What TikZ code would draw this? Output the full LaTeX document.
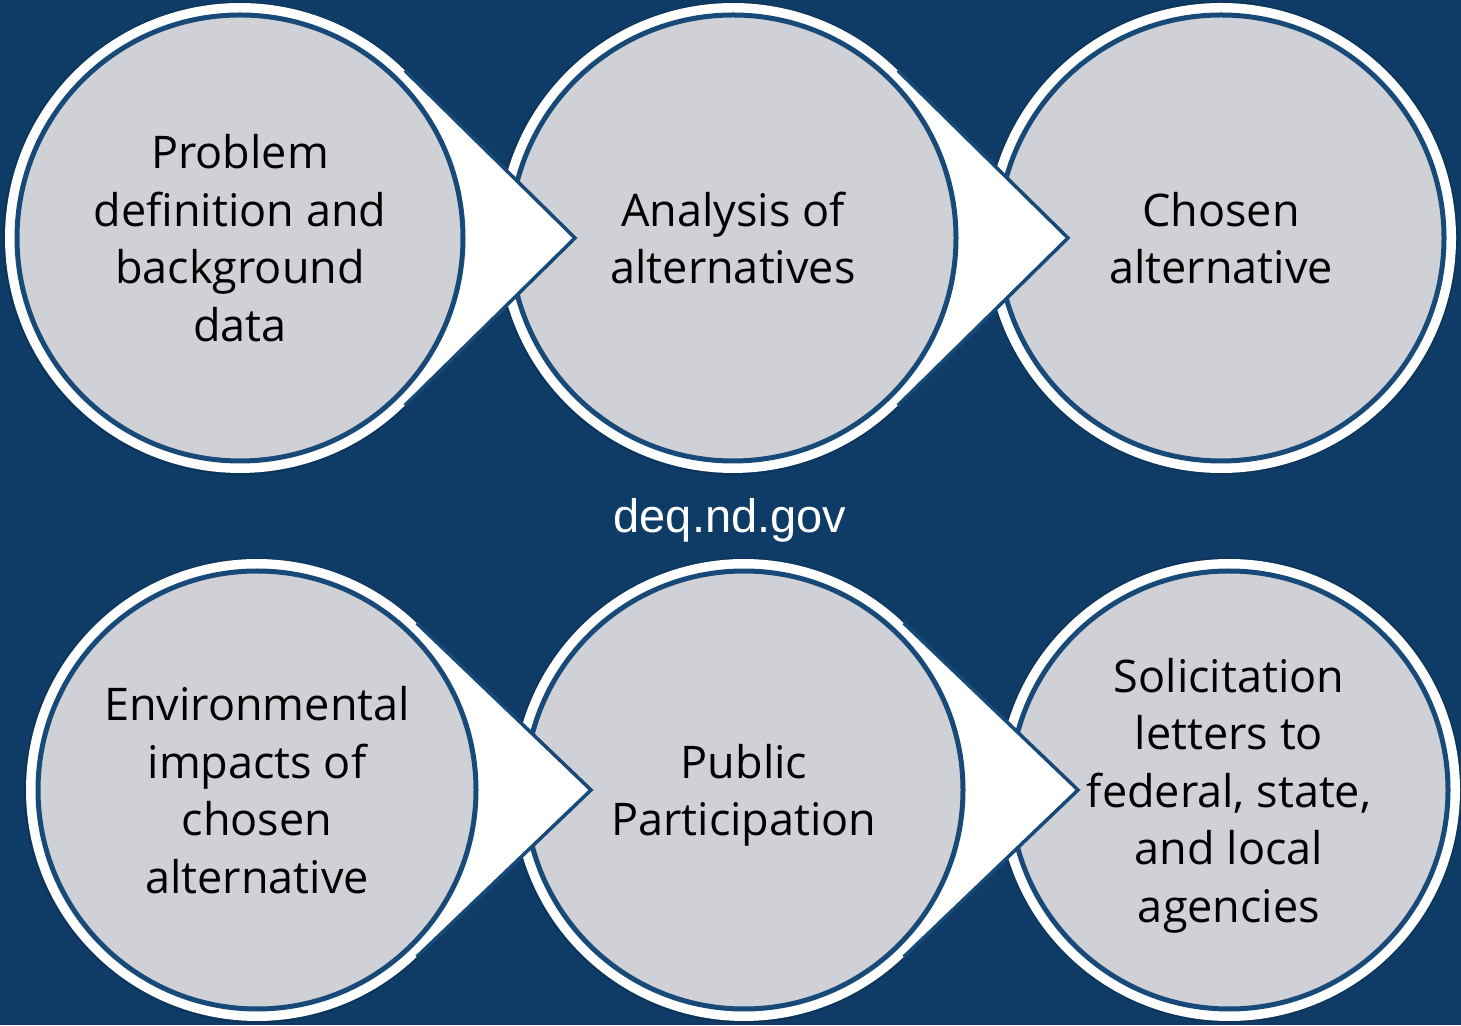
\documentclass[tikz,border=0pt]{standalone}
\usepackage{fontspec}
\setmainfont{Open Sans}
\newfontfamily\urlfont{Liberation Sans}
\usetikzlibrary{calc}
\definecolor{bgblue}{HTML}{0F3C66}
\definecolor{ringblue}{HTML}{174A78}
\definecolor{circgray}{HTML}{D0D1D7}
\definecolor{shadowblue}{HTML}{0B3257}
\tikzset{
  stepcirc/.style={circle, draw=ringblue, line width=5pt, fill=circgray, inner sep=0pt,
    align=center, font=\fontsize{45}{57.5}\selectfont, text=black, text depth=0pt},
  arrowedge/.style={draw=ringblue, line width=3.5pt, line join=miter},
  outerring/.style={draw=shadowblue, line width=1.5pt},
  urltext/.style={text=white, font=\urlfont\fontsize{47}{56}\selectfont, anchor=base, inner sep=0pt},
}
% #1,#2 centre; #3 outer radius; #4 tip distance; #5 name; #6 text; #7 inner diameter
\newcommand{\stepshape}[7]{%
  \pgfmathsetmacro{\ang}{acos(#3/#4)}
  \coordinate (#5-c) at (#1,#2);
  \coordinate (#5-tip) at ($(#5-c)+(#4,0)$);
  \coordinate (#5-up) at ($(#5-c)+(\ang:#3)$);
  \coordinate (#5-dn) at ($(#5-c)+(-\ang:#3)$);
  \draw[outerring] (#5-up) arc[start angle=\ang, end angle=360-\ang, radius=#3+0.7];
  \fill[white] (#5-up) arc[start angle=\ang, end angle=360-\ang, radius=#3] -- (#5-tip) -- cycle;
  \draw[arrowedge] (#5-up) -- (#5-tip) -- (#5-dn);
  \node[stepcirc, minimum size=#7] (#5) at (#5-c) {#6};
}
% last step of a row: plain ring, no pointer
% #1,#2 centre; #3 outer radius; #4 name; #5 text; #6 inner diameter
\newcommand{\laststep}[6]{%
  \coordinate (#4-c) at (#1,#2);
  \draw[outerring] (#4-c) circle[radius=#3+0.7];
  \fill[white] (#4-c) circle[radius=#3];
  \node[stepcirc, minimum size=#6] (#4) at (#4-c) {#5};
}
\begin{document}
\begin{tikzpicture}[x=1pt,y=1pt]
  \useasboundingbox (0,0) rectangle (1461,1025);
  \fill[bgblue] (0,0) rectangle (1461,1025);
  % top row (drawn right to left so that each pointer lies over the next circle)
  \laststep{1221}{787}{235}{s3}{Chosen\\alternative}{446pt}
  \stepshape{733}{787}{235}{335}{s2}{Analysis of\\alternatives}{446pt}
  \stepshape{240}{787}{235}{335}{s1}{Problem\\definition and\\background\\data}{446pt}
  % bottom row
  \laststep{1229}{235}{231}{s6}{Solicitation\\letters to\\federal, state,\\and local\\agencies}{438pt}
  \stepshape{744}{235}{231}{334}{s5}{Public\\Participation}{438pt}
  \stepshape{257}{235}{231}{334}{s4}{Environmental\\impacts of\\chosen\\alternative}{438pt}
  % caption
  \node[urltext] (url) at (730,492) {deq.nd.gov};
\end{tikzpicture}
\end{document}
